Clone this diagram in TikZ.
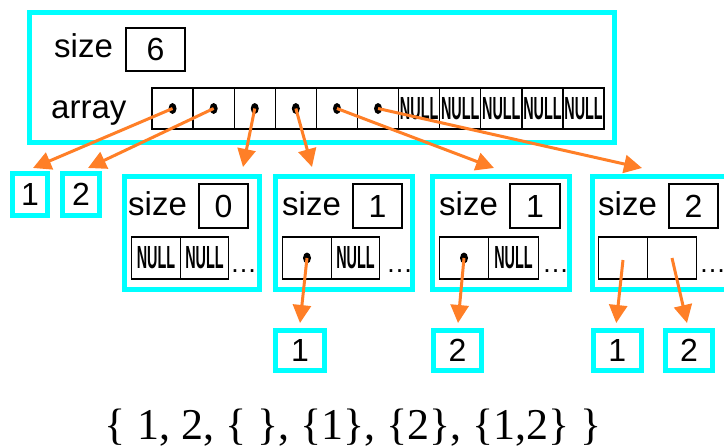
\documentclass[tikz,border=0pt]{standalone}
\usepackage{fontspec}
\usepackage{graphicx}
\setmainfont{Liberation Sans}
\newfontfamily\setfont{Liberation Serif}
\usetikzlibrary{arrows.meta,calc,shapes.geometric}
\definecolor{boxcyan}{RGB}{0,255,255}
\definecolor{ptrorange}{RGB}{255,127,39}
% condensed bold NULL marker used inside array cells
\newcommand{\nullword}{\scalebox{0.45}[1]{\fontsize{32}{32}\selectfont\bfseries NULL}}
\begin{document}
\begin{tikzpicture}[x=1pt,y=-1pt,
  cbox/.style={draw=boxcyan, line width=5pt, inner sep=0pt, rectangle,
               font=\fontsize{32}{32}\selectfont},
  vbox/.style={draw=black, line width=1.3pt, inner sep=0pt, rectangle,
               font=\fontsize{32}{32}\selectfont},
  cell/.style={draw=black, line width=1.3pt, inner sep=0pt, rectangle},
  ptrdot/.style={ellipse, fill=black, minimum width=8pt, minimum height=11pt, inner sep=0pt},
  lbl/.style={font=\fontsize{33}{33}\selectfont, inner sep=0pt, anchor=base west},
  more/.style={font=\fontsize{27}{27}\selectfont, inner sep=0pt, anchor=base west},
  ptr/.style={draw=ptrorange, line width=3pt, -{Triangle[length=18pt,width=18pt]}}]
\clip (0,0) rectangle (724,447);

% ---- outer set: size and pointer array ----
\node[cbox, minimum width=585pt, minimum height=130pt] (set) at (322,77.5) {};
\node[lbl] (sizelbl) at (54,57) {size};
\node[vbox, minimum width=59pt, minimum height=43pt] (setsize) at (155.5,49.5) {6};
\node[lbl] (arraylbl) at (51,118) {array};
\foreach \i in {0,...,5}{
  \node[cell, minimum width=41.1pt, minimum height=41pt] (m\i) at ({172.55+41.1*\i},108.5) {};
  \node[ptrdot] (p\i) at (m\i) {};
}
\foreach \i in {6,...,10}
  \node[cell, minimum width=41.1pt, minimum height=41pt] (m\i) at ({172.55+41.1*\i},108.5) {\nullword};

% ---- plain elements ----
\node[cbox, minimum width=35pt, minimum height=42pt] (b1) at (30,194.5) {1};
\node[cbox, minimum width=37pt, minimum height=42pt] (b2) at (81,194.5) {2};

% ---- nested sets ----
\node[cbox, minimum width=135pt, minimum height=113pt] (s1) at (191.5,232.5) {};
\node[cbox, minimum width=137pt, minimum height=113pt] (s2) at (343.5,232.5) {};
\node[cbox, minimum width=137pt, minimum height=113pt] (s3) at (500.5,232.5) {};
\node[cbox, minimum width=137pt, minimum height=113pt] (s4) at (660.5,232.5) {};

\node[lbl] (s1lbl) at (128,215) {size};
\node[lbl] (s2lbl) at (282,215) {size};
\node[lbl] (s3lbl) at (439,215) {size};
\node[lbl] (s4lbl) at (598,215) {size};

\node[vbox, minimum width=49pt, minimum height=44pt] (s1size) at (223.5,206) {0};
\node[vbox, minimum width=49pt, minimum height=44pt] (s2size) at (377.5,206) {1};
\node[vbox, minimum width=50pt, minimum height=44pt] (s3size) at (535,206) {1};
\node[vbox, minimum width=49pt, minimum height=44pt] (s4size) at (693.5,206) {2};

\node[cell, minimum width=48.5pt, minimum height=42pt] (k11) at (156,258) {\nullword};
\node[cell, minimum width=48.5pt, minimum height=42pt] (k12) at (204.5,258) {\nullword};
\node[cell, minimum width=48.5pt, minimum height=42pt] (k21) at (307,258) {};
\node[cell, minimum width=48.5pt, minimum height=42pt] (k22) at (355.5,258) {\nullword};
\node[cell, minimum width=49.5pt, minimum height=42pt] (k31) at (464,258) {};
\node[cell, minimum width=49.5pt, minimum height=42pt] (k32) at (513.5,258) {\nullword};
\node[cell, minimum width=49.5pt, minimum height=42pt] (k41) at (623,258) {};
\node[cell, minimum width=48.5pt, minimum height=42pt] (k42) at (672,258) {};
\node[ptrdot] (q2) at (k21) {};
\node[ptrdot] (q3) at (k31) {};

\node[more] (e1) at (230,272) {…};
\node[more] (e2) at (386,272) {…};
\node[more] (e3) at (542,272) {…};
\node[more] (e4) at (699,272) {…};

% ---- elements of the nested sets ----
\node[cbox, minimum width=49pt, minimum height=40pt] (u1) at (300,350.5) {1};
\node[cbox, minimum width=48pt, minimum height=40pt] (u2) at (457.5,350.5) {2};
\node[cbox, minimum width=48.5pt, minimum height=40pt] (u3) at (617.25,350.5) {1};
\node[cbox, minimum width=47pt, minimum height=40pt] (u4) at (689,350.5) {2};

% ---- pointers ----
\draw[ptr] (p0.center) -- ($(b1.north)+(3,-3)$);
\draw[ptr] (p1.center) -- ($(b2.north)+(7,-3)$);
\draw[ptr] (p2.center) -- ($(s1.north)+(51.5,-6.5)$);
\draw[ptr] (p3.center) -- ($(s2.north)+(-31.5,-6.5)$);
\draw[ptr] (p4.center) -- ($(s3.north)+(-6.5,-5.5)$);
\draw[ptr] (p5.center) -- ($(s4.north)+(-18.5,-5.5)$);
\draw[ptr] (q2.center) -- ($(u1.north)+(0,-5)$);
\draw[ptr] (q3.center) -- ($(u2.north)+(0.5,-5)$);
\draw[ptr] ([yshift=-2pt]k41.center) -- ($(u3.north)+(-1,-5)$);
\draw[ptr] (k42.center) -- ($(u4.north)+(-2,-5)$);

% ---- set notation ----
\node[font=\setfont\fontsize{44}{44}\selectfont, anchor=base, inner sep=0pt] (setlit)
  at (353.5,439) {\{ 1, 2, \{ \}, \{1\}, \{2\}, \{1,2\} \}};
\end{tikzpicture}
\end{document}
